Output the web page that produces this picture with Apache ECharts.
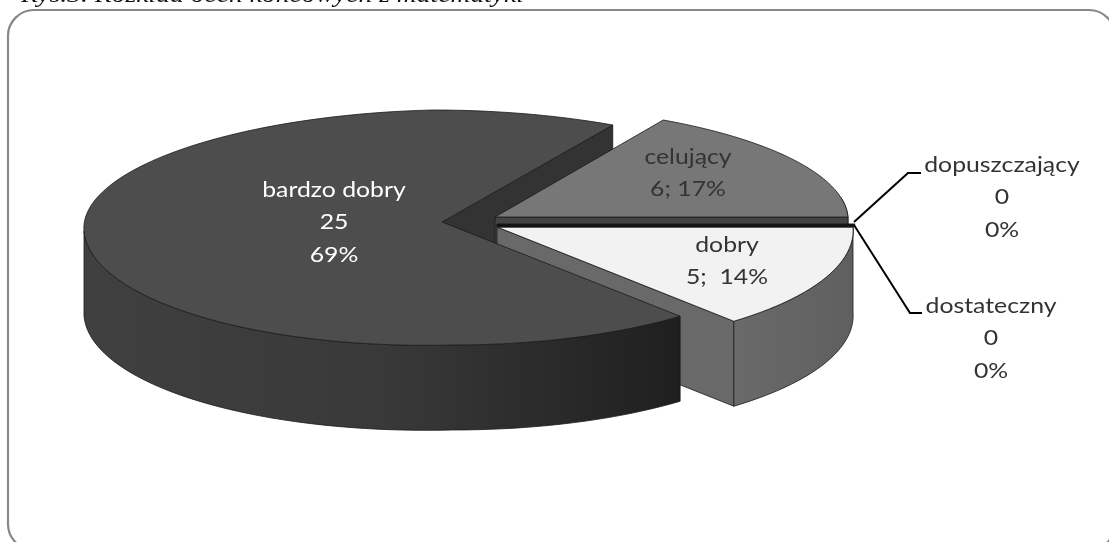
<!DOCTYPE html>
<html>
<head>
<meta charset="utf-8">
<style>html,body{margin:0;padding:0;background:#fff}#c{width:1109px;height:542px}</style>
<script src="https://cdn.jsdelivr.net/npm/echarts@6/dist/echarts.min.js"></script>
</head>
<body>
<div id="c"></div>
<script>
// Grades in drawing order, clockwise from the top of the pie
const grades = ['celujący', 'dopuszczający', 'dostateczny', 'dobry', 'bardzo dobry'];
const counts = [6, 0, 0, 5, 25];
const percents = ['17%', '0%', '0%', '14%', '69%'];
const caption = 'Rys.3. Rozkład ocen końcowych z matematyki';

const total = counts.reduce((a, b) => a + b, 0);
const startAngle = 30;

// Pie projection
const DEPTH = 85, RY_BACK = 112, RY_FRONT = 123, SHEAR = 0.085, LEFT_DROP = 9;
const FONT = 'Lato, "Open Sans", sans-serif';
const EDGE = '#1a1a1a';

// Placement of each slice: apex, horizontal radius and fills
const look = {
  'celujący': { ax: 495, ay: 217, rx: 353, top: '#777777', cut: '#444444', rim: '#555555' },
  'dopuszczający': { ax: 497, ay: 224, rx: 358, top: '#111111' },
  'dostateczny': { ax: 497, ay: 225, rx: 358, top: '#111111' },
  'dobry': { ax: 497, ay: 227, rx: 356, top: '#f2f2f2', cut: '#696969', rim: ['#6a6a6a', '#5f5f5f'] },
  'bardzo dobry': { ax: 442, ay: 222, rx: 358, top: '#4d4d4d', cut: '#333333', rim: ['#404040', '#393939', '#1f1f1f'] }
};

// Slice angular ranges come straight from the counts
let running = startAngle;
const slices = grades.map((name, i) => {
  const a0 = running;
  running += counts[i] / total * 360;
  return { name, value: counts[i], a0, a1: running, ...look[name] };
});

function rimPoint(s, deg, dz) {
  const t = deg * Math.PI / 180, sn = Math.sin(t), cs = Math.cos(t);
  const dy = -(cs > 0 ? RY_BACK : RY_FRONT) * cs;
  const x = s.ax + s.rx * sn + SHEAR * dy;
  const y = s.ay + dy + LEFT_DROP * Math.max(0, -sn) + (dz || 0);
  return [x, y];
}
function arc(s, a0, a1, dz) {
  const n = Math.max(2, Math.ceil(Math.abs(a1 - a0) / 2));
  const pts = [];
  for (let i = 0; i <= n; i++) pts.push(rimPoint(s, a0 + (a1 - a0) * i / n, dz));
  return pts;
}
function poly(points, fill, z, lineWidth) {
  return {
    type: 'polygon', z2: z,
    shape: { points },
    style: { fill, stroke: EDGE, lineWidth: lineWidth === undefined ? 0.8 : lineWidth }
  };
}
function hGradient(stops) {
  if (typeof stops === 'string') return stops;
  return new echarts.graphic.LinearGradient(0, 0, 1, 0,
    stops.map((color, i) => ({ offset: i / (stops.length - 1), color })));
}
const topFace = s => poly([[s.ax, s.ay], ...arc(s, s.a0, s.a1)], s.top, 10);
function sideWall(s, from, to) {
  const up = arc(s, from, to), low = arc(s, from, to, DEPTH).reverse();
  return poly([...up, ...low], hGradient(s.rim), 5);
}
function cutFace(s, deg) {
  const r = rimPoint(s, deg);
  return poly([[s.ax, s.ay], r, [r[0], r[1] + DEPTH], [s.ax, s.ay + DEPTH]], s.cut, 5);
}
function label(lines, x, y, fill) {
  return lines.map((text, i) => ({
    type: 'text', z2: 50,
    x, y: y + i * 32.5, scaleX: 1.18,
    style: {
      text, x: 0, y: 0, fill, font: '400 21px ' + FONT,
      align: 'center', verticalAlign: 'middle'
    }
  }));
}
function leader(points) {
  return {
    type: 'polyline', z2: 40,
    shape: { points },
    style: { fill: null, stroke: '#000', lineWidth: 2 }
  };
}

function renderPie() {
  const [cel, dop, dos, dob, big] = slices;
  const children = [];
  const layer = (items) => ({ type: 'group', children: items });

  // Far to near: the notch wall sits behind the detached slices, the large slice in front
  children.push(layer([cutFace(big, big.a1 % 360)]));
  children.push(layer([sideWall(cel, 80, cel.a1), cutFace(cel, cel.a1), topFace(cel)]));
  children.push(layer([
    poly([[dop.ax, dop.ay], rimPoint(dop, 90), rimPoint(dos, 90), [dos.ax, dos.ay]], '#ffffff', 11, 0),
    poly([[dop.ax, dop.ay], rimPoint(dop, 90), rimPoint(dob, 90), [dob.ax, dob.ay]], dop.top, 12, 1)
  ]));
  children.push(layer([cutFace(dob, dob.a1), sideWall(dob, dob.a0, dob.a1), topFace(dob)]));
  children.push(layer([sideWall(big, big.a0, 270), topFace(big)]));

  // Labels on the slices
  children.push(layer(label([big.name, String(big.value), percents[4]], 334, 190, '#ffffff')));
  children.push(layer(label([cel.name, cel.value + '; ' + percents[0]], 688, 157, '#333333')));
  children.push(layer(label([dob.name, dob.value + ';  ' + percents[3]], 727, 245, '#333333')));

  // Zero-valued grades are called out with leader lines
  const tip = rimPoint(dob, 90);
  children.push(leader([[tip[0] + 1, 222], [908, 173], [921, 173]]));
  children.push(leader([[tip[0] + 1, 225], [910, 313], [922, 313]]));
  children.push(layer(label([dop.name, String(dop.value), percents[1]], 1002, 165, '#333333')));
  children.push(layer(label([dos.name, String(dos.value), percents[2]], 991, 306, '#333333')));
  return { type: 'group', children };
}

const chart = echarts.init(document.getElementById('c'), null, { renderer: 'canvas' });
chart.setOption({
  animation: false,
  backgroundColor: '#ffffff',
  graphic: [
    {
      type: 'rect', z: 0,
      shape: { x: 8, y: 10, width: 1107, height: 540, r: 26 },
      style: { fill: '#ffffff', stroke: '#888888', lineWidth: 2.2 }
    },
    {
      type: 'text', z: 20,
      x: 21, y: 8, scaleX: 1.15,
      style: {
        text: caption, x: 0, y: 0, fill: '#111111',
        font: 'italic 24px "Liberation Serif", serif',
        verticalAlign: 'bottom', align: 'left'
      }
    }
  ],
  series: [{
    type: 'custom',
    coordinateSystem: 'none',
    silent: true,
    data: [counts],
    renderItem: renderPie
  }]
});
</script>
</body>
</html>
